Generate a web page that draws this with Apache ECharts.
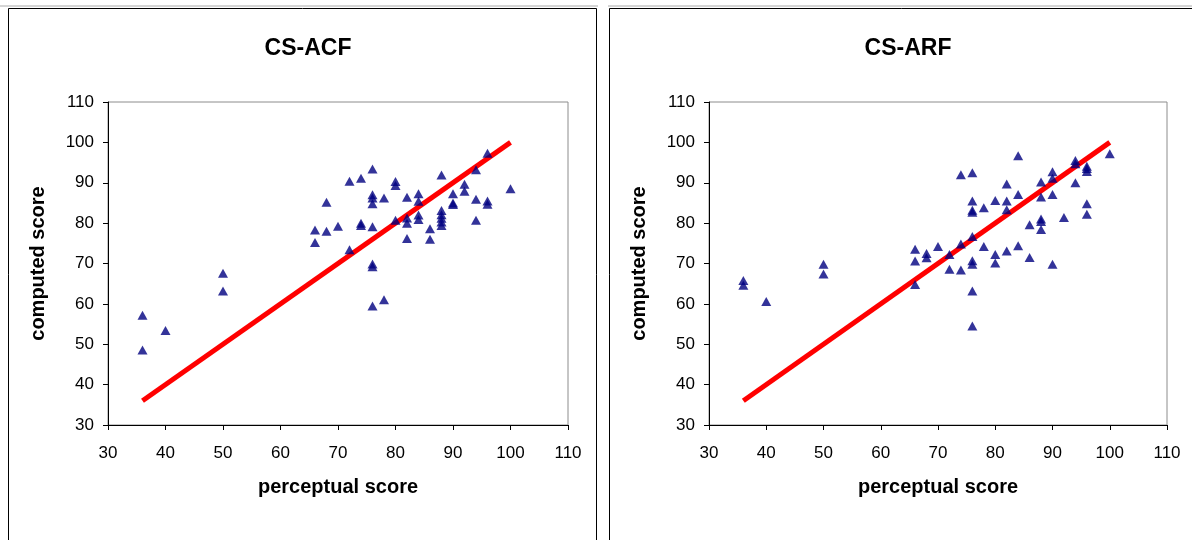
<!DOCTYPE html>
<html>
<head>
<meta charset="utf-8">
<script src="https://cdn.jsdelivr.net/npm/echarts@6/dist/echarts.min.js"></script>
<style>
  html, body { margin: 0; padding: 0; background: #fff; }
  #chart { width: 1192px; height: 540px; }
</style>
</head>
<body>
<div id="chart"></div>
<script>
// perceptual score (x) and computed score (y) for each panel
var acfX = [36, 36, 40, 50, 50, 66, 66, 68, 68, 70, 72, 72, 74, 74, 74,
            76, 76, 76, 76, 76, 76, 76, 76, 78, 78, 80, 80, 80,
            82, 82, 82, 82, 84, 84, 84, 84, 86, 86,
            88, 88, 88, 88, 88, 88, 90, 90, 90, 92, 92, 94, 94, 94, 96, 96, 96, 100];
var acfY = [57.2, 48.6, 53.4, 67.6, 63.2, 78.3, 75.2, 85.2, 78.0, 79.2, 90.4, 73.4, 91.1, 80.0, 79.4,
            93.4, 87.0, 86.2, 84.8, 79.1, 69.9, 69.2, 59.5, 86.2, 61.0, 90.3, 89.3, 80.7,
            86.4, 81.3, 80.0, 76.2, 87.3, 85.4, 82.0, 80.9, 78.6, 76.0,
            91.9, 83.1, 82.1, 81.2, 80.3, 79.4, 87.3, 85.0, 84.6, 89.6, 87.9, 93.2, 85.9, 80.7, 97.3, 85.5, 84.7, 88.5];

var arfX = [36, 36, 40, 50, 50, 66, 66, 66, 68, 68, 70, 72, 72, 74, 74, 74,
            76, 76, 76, 76, 76, 76, 76, 76, 76, 78, 78, 80, 80, 80,
            82, 82, 82, 82, 84, 84, 84, 86, 86, 88, 88, 88, 88, 88,
            90, 90, 90, 90, 92, 94, 94, 94, 96, 96, 96, 96, 96, 100];
var arfY = [65.8, 64.6, 60.6, 69.8, 67.4, 73.5, 70.6, 64.8, 72.5, 71.4, 74.2, 72.2, 68.6, 92.0, 74.8, 68.4,
            92.5, 85.5, 83.2, 82.7, 76.7, 70.7, 69.8, 63.2, 54.5, 83.8, 74.2, 85.6, 72.2, 70.1,
            89.7, 85.5, 83.3, 73.1, 96.7, 87.1, 74.4, 79.6, 71.5, 90.2, 86.5, 81.0, 80.4, 78.4,
            92.7, 91.1, 87.1, 69.8, 81.4, 95.5, 94.7, 90.0, 94.1, 93.5, 92.8, 84.8, 82.2, 97.2];

// reference line y = x
var fitX = [36, 100];
var fitY = [36, 100];

var titles = ['CS-ACF', 'CS-ARF'];
var xName = 'perceptual score';
var yName = 'computed score';

function pairs(xs, ys) {
  return xs.map(function (x, i) { return [x, ys[i]]; });
}

var font = 'Liberation Sans, Arial, sans-serif';
var grids = [
  { left: 108, top: 102, width: 460, height: 323 },
  { left: 709, top: 102, width: 458, height: 323 }
];

function axisX(i) {
  return {
    type: 'value', gridIndex: i, min: 30, max: 110, interval: 10,
    name: xName, nameLocation: 'middle', nameGap: 52,
    nameTextStyle: { fontFamily: font, fontWeight: 'bold', fontSize: 20, color: '#000' },
    axisLine: { show: true, onZero: false, lineStyle: { color: '#000', width: 1 } },
    axisTick: { show: true, inside: false, length: 5, lineStyle: { color: '#000' } },
    axisLabel: { fontFamily: font, fontSize: 17, color: '#000', margin: 20 },
    splitLine: { show: false }
  };
}
function axisY(i) {
  return {
    type: 'value', gridIndex: i, min: 30, max: 110, interval: 10,
    name: yName, nameLocation: 'middle', nameGap: 60,
    nameTextStyle: { fontFamily: font, fontWeight: 'bold', fontSize: 20, color: '#000' },
    axisLine: { show: true, onZero: false, lineStyle: { color: '#000', width: 1 } },
    axisTick: { show: true, inside: false, length: 5, lineStyle: { color: '#000' } },
    axisLabel: { fontFamily: font, fontSize: 17, color: '#000', margin: 14 },
    splitLine: { show: false }
  };
}

var chart = echarts.init(document.getElementById('chart'));
var option = {
  backgroundColor: '#fff',
  animation: false,
  graphic: [
    { type: 'line', shape: { x1: 0, y1: 6, x2: 598, y2: 6 }, style: { stroke: '#aaa', lineWidth: 1 } },
    { type: 'line', shape: { x1: 608, y1: 6, x2: 1192, y2: 6 }, style: { stroke: '#aaa', lineWidth: 1 } },
    { type: 'rect', shape: { x: 8.5, y: 8.5, width: 588, height: 560 }, style: { fill: 'none', stroke: '#000', lineWidth: 1 } },
    { type: 'rect', shape: { x: 609.5, y: 8.5, width: 600, height: 560 }, style: { fill: 'none', stroke: '#000', lineWidth: 1 } }
  ],
  title: [
    { text: titles[0], left: 303, top: 32, textAlign: 'center',
      textStyle: { fontFamily: font, fontWeight: 'bold', fontSize: 23, color: '#000' } },
    { text: titles[1], left: 903, top: 32, textAlign: 'center',
      textStyle: { fontFamily: font, fontWeight: 'bold', fontSize: 23, color: '#000' } }
  ],
  grid: grids.map(function (g) {
    return Object.assign({ show: true, borderColor: '#8c8c8c', borderWidth: 1,
      backgroundColor: 'transparent', outerBoundsMode: 'none' }, g);
  }),
  xAxis: [axisX(0), axisX(1)],
  yAxis: [axisY(0), axisY(1)],
  series: [
    { type: 'line', xAxisIndex: 0, yAxisIndex: 0, data: pairs(fitX, fitY), symbol: 'none', z: 1,
      lineStyle: { color: '#ff0000', width: 5 } },
    { type: 'scatter', xAxisIndex: 0, yAxisIndex: 0, data: pairs(acfX, acfY), z: 3,
      symbol: 'triangle', symbolSize: [10, 9], itemStyle: { color: '#000080' } },
    { type: 'line', xAxisIndex: 1, yAxisIndex: 1, data: pairs(fitX, fitY), symbol: 'none', z: 1,
      lineStyle: { color: '#ff0000', width: 5 } },
    { type: 'scatter', xAxisIndex: 1, yAxisIndex: 1, data: pairs(arfX, arfY), z: 3,
      symbol: 'triangle', symbolSize: [10, 9], itemStyle: { color: '#000080' } }
  ]
};
chart.setOption(option);
</script>
</body>
</html>
